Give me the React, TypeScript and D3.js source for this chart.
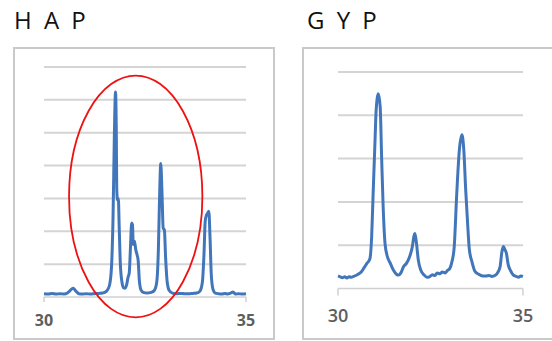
import React from "react";
import * as d3 from "d3";

const hapX = [30.00,30.10,30.20,30.30,30.40,30.50,30.58,30.65,30.72,30.79,30.86,30.95,31.05,31.15,31.25,31.35,31.45,31.55,31.62,31.67,31.71,31.74,31.77,31.79,31.80,31.82,31.84,31.86,31.89,31.93,31.97,32.01,32.05,32.08,32.11,32.14,32.17,32.19,32.21,32.24,32.27,32.30,32.33,32.36,32.40,32.46,32.55,32.65,32.73,32.79,32.83,32.86,32.89,32.92,32.95,32.98,33.01,33.05,33.10,33.18,33.28,33.38,33.48,33.58,33.68,33.78,33.86,33.92,33.96,33.99,34.02,34.05,34.08,34.11,34.14,34.18,34.24,34.32,34.40,34.48,34.55,34.62,34.68,34.74,34.82,34.90,35.00];
const hapY = [0.10,0.09,0.11,0.09,0.10,0.09,0.12,0.20,0.27,0.18,0.10,0.09,0.10,0.09,0.10,0.11,0.12,0.18,0.35,0.9,2.5,4.8,6.24,5.0,3.3,2.95,3.0,2.2,1.0,0.45,0.28,0.27,0.4,0.6,0.73,1.5,2.25,2.2,1.6,1.7,1.45,1.3,1.12,0.5,0.22,0.14,0.12,0.14,0.2,0.45,1.4,3.0,4.06,3.2,2.1,2.04,1.2,0.45,0.2,0.12,0.10,0.11,0.10,0.10,0.11,0.12,0.18,0.45,1.3,2.3,2.49,2.55,2.61,1.8,0.7,0.25,0.12,0.10,0.09,0.11,0.09,0.12,0.15,0.09,0.10,0.09,0.10];

const gypX = [30.00,30.06,30.12,30.18,30.24,30.30,30.36,30.42,30.48,30.54,30.60,30.66,30.72,30.78,30.86,30.91,30.95,31.00,31.03,31.09,31.14,31.18,31.22,31.27,31.33,31.41,31.50,31.58,31.64,31.70,31.77,31.85,31.93,32.01,32.05,32.08,32.12,32.17,32.24,32.33,32.40,32.47,32.55,32.62,32.68,32.75,32.82,32.90,32.96,33.02,33.08,33.14,33.21,33.28,33.35,33.40,33.45,33.49,33.55,33.62,33.70,33.80,33.91,34.00,34.08,34.16,34.24,34.31,34.38,34.43,34.47,34.51,34.55,34.60,34.66,34.74,34.82,34.88,34.94,35.00];
const gypY = [0.29,0.27,0.25,0.27,0.24,0.27,0.26,0.28,0.30,0.33,0.36,0.42,0.50,0.58,0.68,1.2,2.2,3.4,4.1,4.5,4.2,3.0,1.9,1.05,0.75,0.59,0.42,0.33,0.31,0.36,0.50,0.58,0.72,0.97,1.2,1.27,1.05,0.66,0.42,0.31,0.26,0.27,0.32,0.30,0.36,0.34,0.38,0.36,0.42,0.46,0.62,0.95,2.2,3.2,3.55,3.2,2.3,1.7,0.9,0.62,0.40,0.33,0.29,0.29,0.30,0.28,0.30,0.36,0.50,0.85,0.97,0.9,0.82,0.55,0.42,0.31,0.28,0.26,0.29,0.28];

const xTicks = [30, 35];
const hapGrid = [0, 1, 2, 3, 4, 5, 6, 7];
const gypGrid = [0, 1, 2, 3, 4, 5];

const BLUE = "#4276bb";
const GRID = "#d4d4d4";
const FONT = "'Open Sans', 'DejaVu Sans', sans-serif";

export default function App() {
  const hx = d3.scaleLinear().domain([30, 35]).range([44, 246]);
  const hy = d3.scaleLinear().domain([0, 7]).range([297, 67]);
  const gx = d3.scaleLinear().domain([30, 35]).range([338, 523]);
  const gy = d3.scaleLinear().domain([0, 5]).range([288.5, 72]);

  const hapPts = hapX.map((x, i) => [x, hapY[i]] as [number, number]);
  const gypPts = gypX.map((x, i) => [x, gypY[i]] as [number, number]);

  const hLine = d3.line<[number, number]>().x(d => hx(d[0])).y(d => hy(d[1])).curve(d3.curveMonotoneX);
  const gLine = d3.line<[number, number]>().x(d => gx(d[0])).y(d => gy(d[1])).curve(d3.curveMonotoneX);

  const ecx = 32.27, ecy = 3.06, erx = 1.65, ery = 3.68;

  return (
    <svg width={552} height={341} style={{ position: "absolute", left: 0, top: 0, background: "#fff" }}>
      <rect x={0} y={0} width={552} height={341} fill="#fff" />
      <text x={14} y={29} fontFamily={FONT} fontSize={24} fill="#111" letterSpacing={3}>H A P</text>
      <text x={307} y={29} fontFamily={FONT} fontSize={24} fill="#111" letterSpacing={3}>G Y P</text>

      <rect x={14} y={48} width={260} height={291} fill="none" stroke="#c9c9c9" strokeWidth={2} />
      <rect x={303} y={48} width={260} height={291} fill="none" stroke="#c9c9c9" strokeWidth={2} />

      {hapGrid.slice(1).map(v => (
        <line key={"hg" + v} x1={hx(30)} x2={hx(35)} y1={hy(v)} y2={hy(v)} stroke={GRID} strokeWidth={2} />
      ))}
      <line x1={hx(30)} x2={hx(35)} y1={hy(0)} y2={hy(0)} stroke="#d0d0d0" strokeWidth={1.5} />
      {xTicks.map(t => (
        <g key={"ht" + t}>
          <line x1={hx(t)} x2={hx(t)} y1={hy(0)} y2={hy(0) + 5} stroke="#d0d0d0" strokeWidth={1.5} />
          <text x={hx(t)} y={326} textAnchor="middle" fontFamily={FONT} fontSize={16} fontWeight={700} fill="#5e5e5e">{t}</text>
        </g>
      ))}
      <path d={hLine(hapPts) || ""} fill="none" stroke={BLUE} strokeWidth={3} strokeLinejoin="round" />
      <ellipse cx={hx(ecx)} cy={hy(ecy)} rx={hx(30 + erx) - hx(30)} ry={hy(0) - hy(ery)} fill="none" stroke="#ee1111" strokeWidth={1.8} />

      {gypGrid.slice(1).map(v => (
        <line key={"gg" + v} x1={gx(30)} x2={gx(35)} y1={gy(v)} y2={gy(v)} stroke={GRID} strokeWidth={2} />
      ))}
      <line x1={gx(30)} x2={gx(35)} y1={gy(0)} y2={gy(0)} stroke="#d0d0d0" strokeWidth={1.5} />
      {xTicks.map(t => (
        <g key={"gt" + t}>
          <line x1={gx(t)} x2={gx(t)} y1={gy(0)} y2={gy(0) + 7} stroke="#d0d0d0" strokeWidth={1.5} />
          <text x={gx(t)} y={322} textAnchor="middle" fontFamily={FONT} fontSize={18} fontWeight={600} fill="#5e5e5e">{t}</text>
        </g>
      ))}
      <path d={gLine(gypPts) || ""} fill="none" stroke={BLUE} strokeWidth={3} strokeLinejoin="round" />
    </svg>
  );
}
